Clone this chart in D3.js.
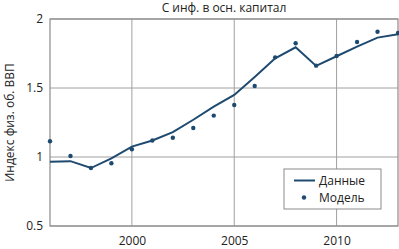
<!DOCTYPE html>
<html>
<head>
<meta charset="utf-8">
<script src="https://cdn.jsdelivr.net/npm/d3@7"></script>
<style>
  body { margin: 0; background: #fff; }
  text { font-family: "Open Sans", sans-serif; fill: #222; }
</style>
</head>
<body>
<div id="chart"></div>
<script>
// values
var years = [1996, 1997, 1998, 1999, 2000, 2001, 2002, 2003, 2004,
             2005, 2006, 2007, 2008, 2009, 2010, 2011, 2012, 2013];
var dataVals = [0.965, 0.97, 0.92, 0.99, 1.075, 1.12, 1.18, 1.27, 1.365,
                1.45, 1.58, 1.715, 1.795, 1.66, 1.73, 1.80, 1.865, 1.89];
var modelVals = [1.114, 1.007, 0.92, 0.955, 1.056, 1.12, 1.14, 1.21, 1.30,
                 1.377, 1.514, 1.722, 1.824, 1.662, 1.732, 1.833, 1.908, 1.899];
var xTicks = [2000, 2005, 2010];
var yTicks = [0.5, 1, 1.5, 2];

var W = 399, H = 249;
var margin = {top: 19, right: 1, bottom: 23, left: 50},
    width = W - margin.left - margin.right,
    height = H - margin.top - margin.bottom;

var svg = d3.select("#chart").append("svg")
    .attr("width", W).attr("height", H);

var g = svg.append("g")
    .attr("transform", "translate(" + margin.left + "," + margin.top + ")");

var x = d3.scaleLinear().domain([1996, 2013]).range([0, width]);
var y = d3.scaleLinear().domain([0.5, 2]).range([height, 0]);

// grid
g.selectAll(".gx").data(xTicks).join("line")
    .attr("x1", d => x(d)).attr("x2", d => x(d))
    .attr("y1", 0).attr("y2", height)
    .attr("stroke", "#a0a0a0").attr("stroke-width", 1);
g.selectAll(".gy").data(yTicks).join("line")
    .attr("x1", 0).attr("x2", width)
    .attr("y1", d => y(d)).attr("y2", d => y(d))
    .attr("stroke", "#a0a0a0").attr("stroke-width", 1);

// frame
g.append("rect")
    .attr("width", width).attr("height", height)
    .attr("fill", "none").attr("stroke", "#8a8a8a").attr("stroke-width", 1.2);

// axes (labels only)
var xAxis = g.append("g")
    .attr("transform", "translate(0," + height + ")")
    .call(d3.axisBottom(x).tickValues(xTicks).tickFormat(d3.format("d")).tickSize(0).tickPadding(10));
var yAxis = g.append("g")
    .call(d3.axisLeft(y).tickValues(yTicks).tickFormat(d => d).tickSize(0).tickPadding(7));
[xAxis, yAxis].forEach(function(a) {
  a.select(".domain").remove();
  a.selectAll("text").style("font-size", "12px").attr("fill", "#222")
    .style("font-family", "'Open Sans', sans-serif");
});

// data line
var line = d3.line().x((d, i) => x(years[i])).y(d => y(d));
g.append("path")
    .datum(dataVals)
    .attr("d", line)
    .attr("fill", "none")
    .attr("stroke", "#1f4a70")
    .attr("stroke-width", 2);

// model dots
g.selectAll(".dot").data(modelVals).join("circle")
    .attr("cx", (d, i) => x(years[i]))
    .attr("cy", d => y(d))
    .attr("r", 2.2)
    .attr("fill", "#1f4a70");

// title
svg.append("text")
    .attr("x", margin.left + width / 2).attr("y", 12)
    .attr("text-anchor", "middle")
    .style("font-size", "12px")
    .text("С инф. в осн. капитал");

// y label
svg.append("text")
    .attr("transform", "translate(14," + (margin.top + height / 2) + ") rotate(-90)")
    .attr("text-anchor", "middle")
    .style("font-size", "12px")
    .text("Индекс физ. об. ВВП");

// legend
var lg = svg.append("g").attr("transform", "translate(284,169)");
lg.append("rect").attr("width", 97).attr("height", 40)
    .attr("fill", "#fff").attr("stroke", "#8a8a8a").attr("stroke-width", 1);
lg.append("line").attr("x1", 10).attr("x2", 31).attr("y1", 11.5).attr("y2", 11.5)
    .attr("stroke", "#1f4a70").attr("stroke-width", 2);
lg.append("circle").attr("cx", 20).attr("cy", 28.5).attr("r", 2.2).attr("fill", "#1f4a70");
lg.append("text").attr("x", 35).attr("y", 16).style("font-size", "12px").text("Данные");
lg.append("text").attr("x", 35).attr("y", 33).style("font-size", "12px").text("Модель");
</script>
</body>
</html>
